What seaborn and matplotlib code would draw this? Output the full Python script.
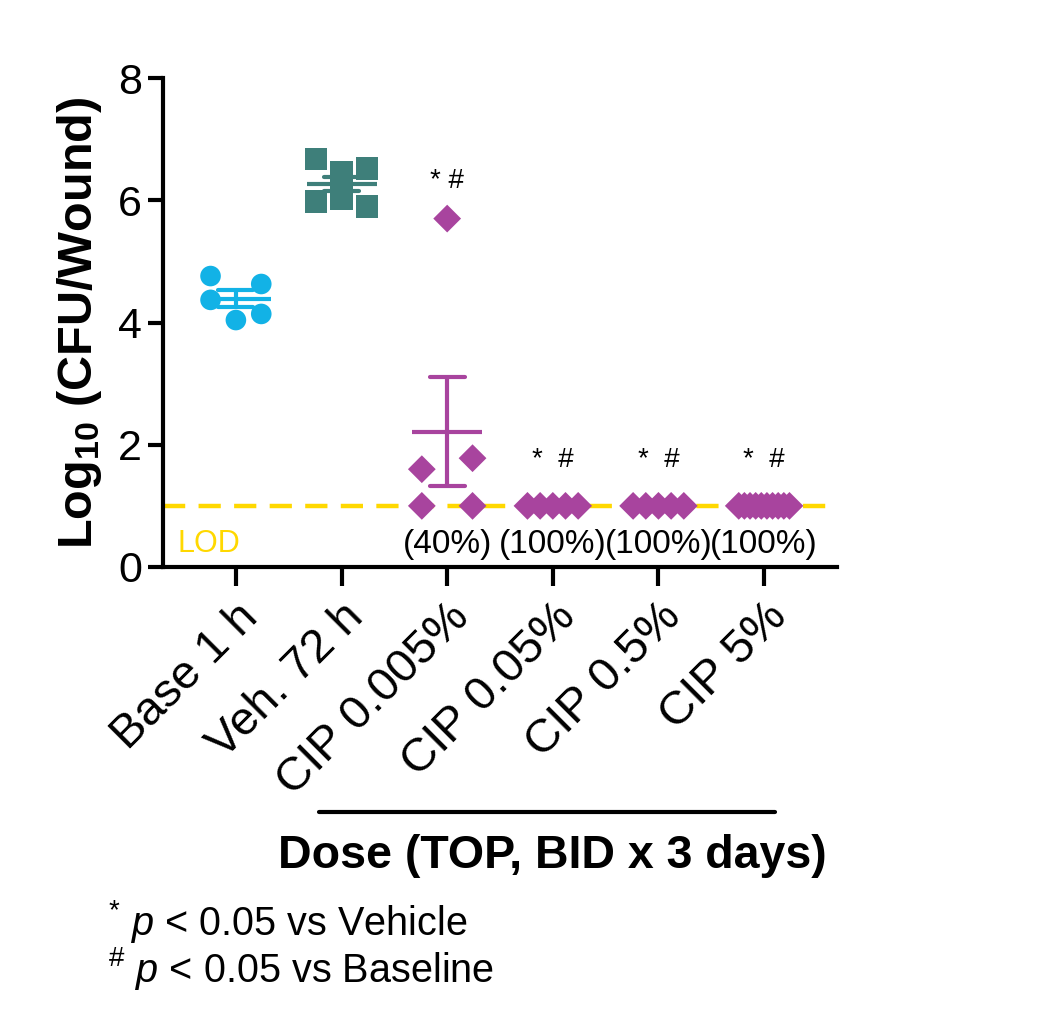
import matplotlib
matplotlib.use("Agg")
import matplotlib.pyplot as plt
import matplotlib.transforms as mtransforms
import pandas as pd
import seaborn as sns

# ---------- data (log10 CFU / wound) ----------
groups = ["Base 1 h", "Veh. 72 h", "CIP 0.005%", "CIP 0.05%", "CIP 0.5%", "CIP 5%"]
base_1h = [4.76, 4.37, 4.04, 4.63, 4.14]
veh_72h = [6.67, 5.98, 6.46, 6.30, 6.03, 6.52, 5.90]
cip_0005 = [1.0, 1.6, 5.7, 1.78, 1.0]
cip_005 = [1.0, 1.0, 1.0, 1.0, 1.0]
cip_05 = [1.0, 1.0, 1.0, 1.0, 1.0]
cip_5 = [1.0, 1.0, 1.0, 1.0, 1.0, 1.0, 1.0, 1.0, 1.0, 1.0]
pct_labels = ["", "", "(40%)", "(100%)", "(100%)", "(100%)"]
sig_labels = ["", "", "* #", "*  #", "*  #", "*  #"]
lod = 1.0

colors = {"Base 1 h": "#12B2E6", "Veh. 72 h": "#3E7F7A",
          "CIP 0.005%": "#A8449E", "CIP 0.05%": "#A8449E",
          "CIP 0.5%": "#A8449E", "CIP 5%": "#A8449E"}
markers = {"Base 1 h": "o", "Veh. 72 h": "s", "CIP 0.005%": "D",
           "CIP 0.05%": "D", "CIP 0.5%": "D", "CIP 5%": "D"}
sizes = {"Base 1 h": 220, "Veh. 72 h": 260, "CIP 0.005%": 200,
         "CIP 0.05%": 200, "CIP 0.5%": 200, "CIP 5%": 200}


def spread(vals, half=0.24, tol=0.25):
    # GraphPad-like scatter: points with close values share a row
    order = sorted(range(len(vals)), key=lambda i: -vals[i])
    rows = []
    for i in order:
        if rows and vals[rows[-1][0]] - vals[i] <= tol:
            rows[-1].append(i)
        else:
            rows.append([i])
    offs = [0.0] * len(vals)
    for row in rows:
        row = sorted(row)
        k = len(row)
        for j, i in enumerate(row):
            offs[i] = 0.0 if k == 1 else -half + 2 * half * j / (k - 1)
    return offs


series = [base_1h, veh_72h, cip_0005, cip_005, cip_05, cip_5]
rows = []
for gi, (g, vals) in enumerate(zip(groups, series)):
    for v, o in zip(vals, spread(vals)):
        rows.append({"group": g, "value": v, "xpos": gi + o})
df = pd.DataFrame(rows)

# ---------- style ----------
sns.set_style("ticks")
plt.rcParams["font.family"] = ["Liberation Sans", "DejaVu Sans"]
plt.rcParams["mathtext.fontset"] = "custom"
plt.rcParams["mathtext.rm"] = "Liberation Sans"
plt.rcParams["mathtext.it"] = "Liberation Sans:italic"
plt.rcParams["mathtext.bf"] = "Liberation Sans:bold"
for key in ["text.color", "axes.labelcolor", "xtick.color", "ytick.color",
            "axes.edgecolor"]:
    plt.rcParams[key] = "black"

fig = plt.figure(figsize=(10.5, 10.29), dpi=100)
ax = fig.add_axes([163 / 1050, 462 / 1029, 674 / 1050, 489 / 1029])

# mean +/- SEM
sns.pointplot(data=df, x="group", y="value", hue="group", order=groups,
              hue_order=groups, palette=colors, errorbar="se",
              capsize=0.33, marker="_", markersize=51, markeredgewidth=3,
              linestyle="none", err_kws={"linewidth": 3}, legend=False,
              ax=ax, zorder=2)

# individual animals
sns.scatterplot(data=df, x="xpos", y="value", hue="group", style="group",
                size="group", palette=colors, markers=markers, sizes=sizes,
                hue_order=groups, style_order=groups, size_order=groups,
                linewidth=0, legend=False, ax=ax, zorder=3)

# limit of detection
ax.axhline(lod, color="#FFD800", linestyle=(0, (5, 3)), linewidth=3.2,
           zorder=1.5)
ax.text(-0.55, 0.37, "LOD", color="#FFD800", fontsize=22,
        ha="left", va="center")

for i, (p, s) in enumerate(zip(pct_labels, sig_labels)):
    if p:
        ax.text(i, 0.36, p, fontsize=24, ha="center", va="center")
    if s:
        top = max(series[i])
        ax.text(i, top + 0.62 if top > lod else 1.75, s, fontsize=20,
                ha="center", va="center")

ax.set_xlim(-0.69, 5.69)
ax.set_ylim(0, 8)
ax.set_yticks([0, 2, 4, 6, 8])
ax.set_xticks(range(len(groups)))
ax.set_xticklabels(groups)
ax.set_xlabel("")
ax.set_ylabel(r"Log$_{\mathbf{10}}$ (CFU/Wound)", fontsize=35,
              fontweight="bold")
ax.yaxis.set_label_coords(-0.088, 0.5)

sns.despine(ax=ax)
for sp in ["left", "bottom"]:
    ax.spines[sp].set_linewidth(3)
ax.tick_params(axis="y", length=11, width=3, labelsize=31, pad=4)
ax.tick_params(axis="x", length=14, width=3, labelsize=34, pad=6)
for lbl in ax.get_xticklabels():
    lbl.set_rotation(45)
    lbl.set_ha("right")
    lbl.set_va("top")
    lbl.set_rotation_mode("anchor")

# dose bracket and label under the CIP groups
trans = mtransforms.blended_transform_factory(ax.transData, ax.transAxes)
ax.plot([0.79, 5.10], [-0.50, -0.50], color="black", linewidth=3,
        transform=trans, clip_on=False)
ax.text(3.0, -0.59, "Dose (TOP, BID x 3 days)", transform=trans,
        fontsize=33.5, fontweight="bold", ha="center", va="center")

# footnotes
fig.text(108 / 1050, 1 - 935 / 1029, r"$^{*}$ $\mathit{p}$ < 0.05 vs Vehicle",
         fontsize=28.5, va="baseline", ha="left")
fig.text(108 / 1050, 1 - 982 / 1029, r"$^{\#}$ $\mathit{p}$ < 0.05 vs Baseline",
         fontsize=28.5, va="baseline", ha="left")

fig.savefig("out.png", dpi=100)
